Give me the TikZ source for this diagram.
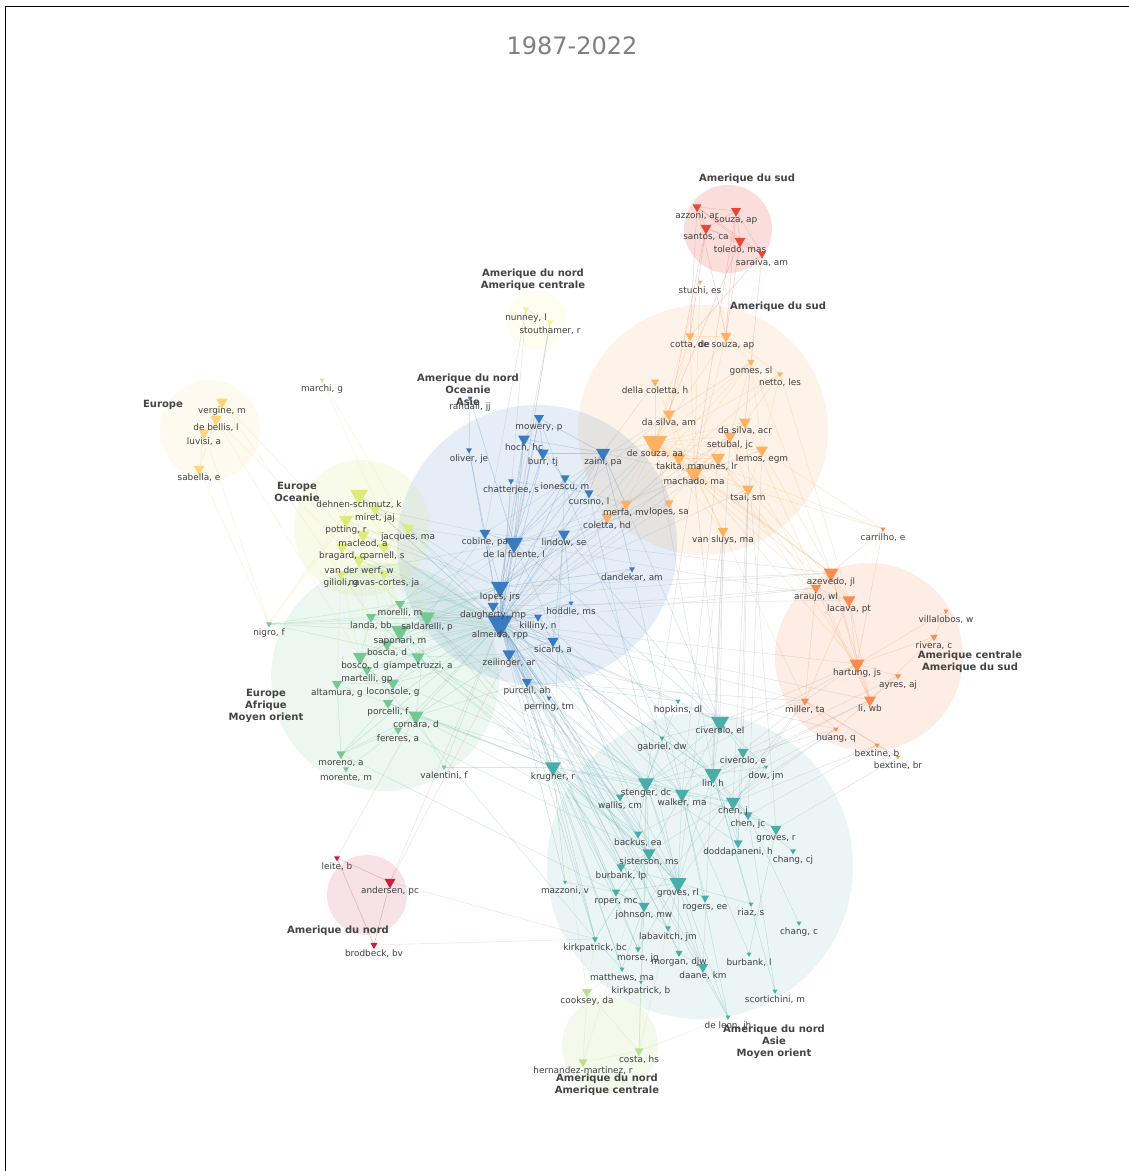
\documentclass[tikz,border=0pt]{standalone}
\usepackage{fontspec}
\setmainfont{DejaVu Sans}
\usetikzlibrary{shapes.geometric}
\definecolor{cB}{HTML}{3A7BC0}
\definecolor{cO}{HTML}{FDB163}
\definecolor{cR}{HTML}{E5493A}
\definecolor{cOR}{HTML}{F98C4E}
\definecolor{cT}{HTML}{4AADA7}
\definecolor{cG}{HTML}{77C795}
\definecolor{cYG}{HTML}{DDEB7D}
\definecolor{cY}{HTML}{FDD67C}
\definecolor{cPY}{HTML}{F4F28A}
\definecolor{cC}{HTML}{C8203D}
\definecolor{cLG}{HTML}{B7E08F}
\definecolor{cX}{HTML}{9AA3AA}
\definecolor{cGB}{HTML}{6FB7A8}
\definecolor{cBT}{HTML}{5A9CB4}
\definecolor{labc}{HTML}{404040}
\definecolor{grpc}{HTML}{444444}
\definecolor{titlec}{HTML}{808080}
\pgfdeclarelayer{bg}
\pgfdeclarelayer{edges}
\pgfdeclarelayer{top}
\pgfsetlayers{bg,edges,main,top}
\tikzset{
  tri/.style={regular polygon, regular polygon sides=3, shape border rotate=180, inner sep=0pt, draw=none},
  lab/.style={font=\fontsize{8.9}{10}\selectfont, text=labc, inner sep=0pt, text height=6.5pt, text depth=2pt},
  grp/.style={font=\bfseries\fontsize{10}{12}\selectfont, text=grpc, align=center, inner sep=0pt},
  hull/.style={draw=none, fill opacity=0.14},
  edge/.style={line width=0.5pt, draw opacity=0.3},
}
\newcommand\tn[7][9.5]{%
  \node[tri,fill=#6,minimum size=#5*1.155pt] (#2) at (#3,#4) {};%
  \begin{pgfonlayer}{top}\node[lab] (#2-l) at (#3,#4+#1) {#7};\end{pgfonlayer}}
\newcommand\edgeset[2]{\begin{pgfonlayer}{edges}\foreach \a/\b in {#2} \draw[edge,#1] (\a.center) -- (\b.center);\end{pgfonlayer}}
\begin{document}
\begin{tikzpicture}[x=1pt,y=-1pt]
\useasboundingbox (0,0) rectangle (1129,1171);

% ---------- cluster hulls ----------
\begin{pgfonlayer}{bg}
\fill[white] (0,0) rectangle (1129,1171);
\fill[hull,cR,fill opacity=0.18] (728,229) circle[radius=44];
\fill[hull,cO] (703,430) circle[radius=125];
\fill[hull,cPY,fill opacity=0.12] (537,320) circle[radius=30];
\fill[hull,cY,fill opacity=0.12] (210,430) circle[radius=50];
\fill[hull,cB,fill opacity=0.13] (537,545) circle[radius=140];
\fill[hull,cYG,fill opacity=0.16] (362,528) circle[radius=68];
\fill[hull,cG,fill opacity=0.14] (385,677) circle[radius=114];
\fill[hull,cOR,fill opacity=0.15] (869,657) circle[radius=94];
\fill[hull,cT,fill opacity=0.11] (700,866) circle[radius=153];
\fill[hull,cC,fill opacity=0.13] (367,895) circle[radius=40];
\fill[hull,cLG,fill opacity=0.16] (610,1045) circle[radius=48];
\draw[black, line width=0.8pt] (5.5,1171) -- (5.5,6.5) -- (1129,6.5);
\end{pgfonlayer}
\node[font=\fontsize{24}{28}\selectfont, text=titlec, inner sep=0pt] (title) at (572,46) {1987-2022};

% ---------- group labels ----------
\node[grp] (g1) at (747,179) {Amerique du sud};
\node[grp] (g2) at (533,280) {Amerique du nord\\Amerique centrale};
\node[grp] (g3) at (778,307) {Amerique du sud};
\node[grp] (g4) at (163,405) {Europe};
\node[grp] (g5) at (468,389.5) {Amerique du nord\\Oceanie\\Asie};
\node[grp] (g6) at (297,491.5) {Europe\\Oceanie};
\node[grp] (g7) at (266,705.5) {Europe\\Afrique\\Moyen orient};
\node[grp] (g8) at (970,662) {Amerique centrale\\Amerique du sud};
\node[grp] (g9) at (338,931) {Amerique du nord};
\node[grp] (g10) at (774,1041.5) {Amerique du nord\\Asie\\Moyen orient};
\node[grp] (g11) at (607,1085) {Amerique du nord\\Amerique centrale};

% ---------- nodes ----------
% Europe
\tn{vergine}{222}{402}{12}{cY}{vergine, m}
\tn{debellis}{216}{419}{12}{cY}{de bellis, l}
\tn{luvisi}{204}{433}{11}{cY}{luvisi, a}
\tn{sabella}{199}{469}{11}{cY}{sabella, e}
\tn{marchi}{322}{380}{5}{cYG}{marchi, g}
% top pale
\tn{nunney}{526}{309}{6}{cPY}{nunney, l}
\tn{stouthamer}{550}{322}{6}{cPY}{stouthamer, r}
% red top
\tn{azzoni}{697}{207}{9}{cR}{azzoni, ar}
\tn{souza}{736}{211}{10}{cR}{souza, ap}
\tn{santos}{706}{228}{11}{cR}{santos, ca}
\tn{toledo}{740}{241}{11}{cR}{toledo, mas}
\tn{saraiva}{762}{254}{8}{cR}{saraiva, am}
% orange
\tn{stuchi}{700}{282}{5}{cO}{stuchi, es}
\tn{cotta}{690}{336}{9}{cO}{cotta, de}
\tn{desouzaap}{726}{336}{11}{cO}{de souza, ap}
\tn{gomes}{751}{362}{7}{cO}{gomes, sl}
\tn{netto}{780}{374}{6}{cO}{netto, les}
\tn{dellacoletta}{655}{382}{8}{cO}{della coletta, h}
\tn{dasilvaam}{669}{414}{12}{cO}{da silva, am}
\tn{dasilvaacr}{745}{422}{12}{cO}{da silva, acr}
\tn{setubal}{730}{436}{12}{cO}{setubal, jc}
\tn[11]{desouzaaa}{655}{443}{24}{cO}{de souza, aa}
\tn{lemos}{762}{450}{12}{cO}{lemos, egm}
\tn{takita}{679}{458}{13}{cO}{takita, ma}
\tn{nunes}{718}{458}{14}{cO}{nunes, lr}
\tn{machado}{694}{473}{18}{cO}{machado, ma}
\tn{tsai}{748}{489}{12}{cO}{tsai, sm}
\tn{merfa}{626}{504}{11}{cO}{merfa, mv}
\tn{lopessa}{669}{503}{9}{cO}{lopes, sa}
\tn{coletta}{607}{517}{12}{cO}{coletta, hd}
\tn{vansluys}{723}{531}{11}{cO}{van sluys, ma}
% blue
\tn{randall}{470}{398}{5}{cB}{randall, jj}
\tn{mowery}{539}{418}{10}{cB}{mowery, p}
\tn{hoch}{524}{439}{12}{cB}{hoch, hc}
\tn{burr}{543}{453}{12}{cB}{burr, tj}
\tn{oliver}{469}{450}{6}{cB}{oliver, je}
\tn{zaini}{603}{453}{14}{cB}{zaini, pa}
\tn{chatterjee}{511}{481}{6}{cB}{chatterjee, s}
\tn{ionescu}{565}{478}{9}{cB}{ionescu, m}
\tn{cursino}{589}{493}{9}{cB}{cursino, l}
\tn{cobine}{485}{533}{11}{cB}{cobine, pa}
\tn[12]{delafuente}{514}{543}{18}{cB}{de la fuente, l}
\tn{lindow}{564}{534}{12}{cB}{lindow, se}
\tn{dandekar}{632}{569}{6}{cB}{dandekar, am}
\tn[10.5]{lopesjrs}{500}{587}{18}{cB}{lopes, jrs}
\tn{daugherty}{493}{606}{11}{cB}{daugherty, mp}
\tn{hoddle}{571}{603}{5}{cB}{hoddle, ms}
\tn{killiny}{538}{617}{8}{cB}{killiny, n}
\tn[12]{almeida}{500}{623}{26}{cB}{almeida, rpp}
\tn{sicard}{553}{641}{11}{cB}{sicard, a}
\tn{zeilinger}{509}{654}{13}{cB}{zeilinger, ar}
\tn{purcell}{527}{682}{10}{cB}{purcell, ah}
\tn{perring}{549}{698}{5}{cB}{perring, tm}
% Europe Oceanie
\tn[10]{dehnen}{359}{495}{18}{cYG}{dehnen-schmutz, k}
\tn{miret}{375}{509}{12}{cYG}{miret, jaj}
\tn[10.5]{potting}{346}{520}{14}{cYG}{potting, r}
\tn{jacques}{408}{528}{12}{cYG}{jacques, ma}
\tn{macleod}{363}{535}{13}{cYG}{macleod, a}
\tn{bragard}{342}{547}{12}{cYG}{bragard, c}
\tn{parnell}{384}{547}{12}{cYG}{parnell, s}
\tn[11]{vanderwerf}{359}{560}{13}{cYG}{van der werf, w}
\tn{gilioli}{341}{574}{10}{cYG}{gilioli, g}
\tn{navas}{384}{574}{10}{cYG}{navas-cortes, ja}
% green
\tn{nigro}{269}{624}{6}{cG}{nigro, f}
\tn{morelli}{400}{604}{10}{cG}{morelli, m}
\tn{landa}{371}{617}{10}{cG}{landa, bb}
\tn[10]{saldarelli}{427}{617}{16}{cG}{saldarelli, p}
\tn[10]{saponari}{400}{631}{18}{cG}{saponari, m}
\tn{boscia}{387}{644}{12}{cG}{boscia, d}
\tn{bosco}{360}{657}{14}{cG}{bosco, d}
\tn{giampetruzzi}{418}{657}{13}{cG}{giampetruzzi, a}
\tn{martelli}{367}{670}{10}{cG}{martelli, gp}
\tn{loconsole}{393}{683}{12}{cG}{loconsole, g}
\tn{altamura}{337}{684}{10}{cG}{altamura, g}
\tn{porcelli}{388}{703}{10}{cG}{porcelli, f}
\tn{cornara}{416}{716}{15}{cG}{cornara, d}
\tn{fereres}{398}{730}{8}{cG}{fereres, a}
\tn{moreno}{341}{754}{9}{cG}{moreno, a}
\tn{morente}{346}{769}{6}{cG}{morente, m}
\tn{valentini}{444}{767}{5}{cG}{valentini, f}
% orange-red
\tn{carrilho}{883}{529}{5}{cOR}{carrilho, e}
\tn{azevedo}{831}{573}{15}{cOR}{azevedo, jl}
\tn{araujo}{816}{588}{10}{cOR}{araujo, wl}
\tn{lacava}{849}{600}{13}{cOR}{lacava, pt}
\tn{villalobos}{946}{611}{5}{cOR}{villalobos, w}
\tn{rivera}{934}{637}{7}{cOR}{rivera, c}
\tn{hartung}{857}{664}{15}{cOR}{hartung, js}
\tn{ayres}{898}{676}{6}{cOR}{ayres, aj}
\tn{miller}{805}{701}{8}{cOR}{miller, ta}
\tn{liwb}{870}{700}{12}{cOR}{li, wb}
\tn{huang}{836}{729}{5}{cOR}{huang, q}
\tn{bextineb}{877}{745}{5}{cOR}{bextine, b}
\tn{bextinebr}{898}{757}{4}{cOR}{bextine, br}
% teal
\tn{hopkins}{678}{701}{5}{cT}{hopkins, dl}
\tn{civeroloel}{720}{722}{18}{cT}{civerolo, el}
\tn{gabriel}{662}{738}{5}{cT}{gabriel, dw}
\tn{civeroloe}{743}{752}{11}{cT}{civerolo, e}
\tn{dow}{766}{767}{4}{cT}{dow, jm}
\tn[10]{krugner}{553}{767}{16}{cT}{krugner, r}
\tn[10]{linh}{713}{774}{17}{cT}{lin, h}
\tn[10.5]{stenger}{646}{783}{16}{cT}{stenger, dc}
\tn{wallis}{620}{797}{8}{cT}{wallis, cm}
\tn{walker}{682}{794}{14}{cT}{walker, ma}
\tn{chenj}{733}{802}{14}{cT}{chen, j}
\tn{chenjc}{748}{815}{9}{cT}{chen, jc}
\tn{grovesr}{776}{829}{11}{cT}{groves, r}
\tn{backus}{638}{834}{8}{cT}{backus, ea}
\tn{doddapaneni}{738}{843}{9}{cT}{doddapaneni, h}
\tn{changcj}{793}{851}{6}{cT}{chang, cj}
\tn{sisterson}{649}{853}{13}{cT}{sisterson, ms}
\tn{burbanklp}{621}{867}{9}{cT}{burbank, lp}
\tn{mazzoni}{565}{882}{4}{cT}{mazzoni, v}
\tn[10]{grovesrl}{678}{883}{17}{cT}{groves, rl}
\tn{roper}{616}{892}{8}{cT}{roper, mc}
\tn{rogers}{705}{898}{8}{cT}{rogers, ee}
\tn{riaz}{751}{904}{5}{cT}{riaz, s}
\tn{johnson}{644}{906}{11}{cT}{johnson, mw}
\tn{changc}{799}{923}{5}{cT}{chang, c}
\tn{labavitch}{668}{928}{6}{cT}{labavitch, jm}
\tn{kirkpatrickbc}{595}{939}{6}{cT}{kirkpatrick, bc}
\tn{morse}{638}{949}{6}{cT}{morse, jg}
\tn{morgan}{679}{953}{7}{cT}{morgan, djw}
\tn{burbankl}{749}{954}{5}{cT}{burbank, l}
\tn{daane}{703}{967}{10}{cT}{daane, km}
\tn{matthews}{622}{969}{5}{cT}{matthews, ma}
\tn{kirkpatrickb}{641}{982}{4}{cT}{kirkpatrick, b}
\tn{scortichini}{775}{991}{5}{cT}{scortichini, m}
\tn{deleon}{728}{1017}{5}{cT}{de leon, jh}
% light green
\tn{cooksey}{587}{992}{10}{cLG}{cooksey, da}
\tn{costa}{639}{1051}{9}{cLG}{costa, hs}
\tn{hernandez}{583}{1062}{9}{cLG}{hernandez-martinez, r}
% crimson
\tn{leite}{337}{858}{6}{cC}{leite, b}
\tn{andersen}{390}{882}{11}{cC}{andersen, pc}
\tn{brodbeck}{374}{945}{7}{cC}{brodbeck, bv}

% ---------- edges ----------
\edgeset{cR,draw opacity=0.25}{azzoni/souza, azzoni/santos, azzoni/toledo, azzoni/saraiva, souza/santos, souza/toledo, souza/saraiva, santos/toledo, santos/saraiva, toledo/saraiva, santos/cotta, azzoni/cotta, souza/desouzaap, toledo/desouzaap, santos/dasilvaam, saraiva/dasilvaacr, toledo/desouzaaa, saraiva/cotta, azzoni/desouzaap, souza/machado}
\edgeset{cO}{stuchi/desouzaaa, stuchi/machado,
 desouzaaa/dasilvaam, desouzaaa/setubal, desouzaaa/takita, desouzaaa/nunes, desouzaaa/machado, desouzaaa/lemos, desouzaaa/dasilvaacr, desouzaaa/cotta, desouzaaa/desouzaap, desouzaaa/dellacoletta, desouzaaa/merfa, desouzaaa/lopessa, desouzaaa/coletta, desouzaaa/vansluys, desouzaaa/tsai, desouzaaa/gomes, desouzaaa/netto,
 machado/takita, machado/nunes, machado/tsai, machado/setubal, machado/lemos, machado/dasilvaacr, machado/vansluys, machado/merfa, machado/lopessa, machado/dasilvaam, machado/cotta, machado/desouzaap,
 cotta/desouzaap, cotta/dasilvaam, desouzaap/gomes, desouzaap/netto, gomes/lemos, netto/lemos, gomes/setubal, dellacoletta/dasilvaam, dasilvaacr/setubal, tsai/lemos, nunes/setubal, nunes/tsai, takita/nunes, dasilvaam/takita, setubal/tsai, dasilvaacr/lemos, netto/dasilvaacr, gomes/takita, netto/merfa, gomes/coletta,
 azevedo/desouzaaa, azevedo/machado, araujo/nunes, lacava/tsai, azevedo/lemos, hartung/machado, carrilho/tsai, carrilho/desouzaaa, liwb/dasilvaacr, araujo/desouzaaa, lacava/desouzaaa, azevedo/takita, araujo/setubal, hartung/nunes, miller/machado, azevedo/gomes, lacava/netto, carrilho/lemos}
\edgeset{cX}{zaini/desouzaaa, zaini/machado, zaini/merfa, cursino/merfa, cursino/coletta, coletta/delafuente, desouzaaa/almeida, machado/lopesjrs, desouzaaa/lopesjrs, takita/almeida, lopessa/almeida, nunes/almeida, setubal/lopesjrs, dasilvaam/delafuente, dellacoletta/zaini, lemos/delafuente, gomes/cobine, merfa/almeida, coletta/lopesjrs, dasilvaacr/almeida, tsai/daugherty, lopessa/lindow,
 vansluys/civeroloel, vansluys/linh, desouzaaa/linh, machado/stenger, vansluys/grovesrl, tsai/chenj, tsai/civeroloe, setubal/linh, machado/civeroloel, nunes/walker, lemos/chenjc, tsai/doddapaneni, vansluys/daane, dasilvaacr/grovesr,
 miller/civeroloel, miller/linh, huang/chenj, liwb/walker, hartung/stenger, huang/stenger, bextineb/chenj, liwb/linh, miller/grovesrl, huang/sisterson, bextineb/chenjc, ayres/civeroloe, huang/backus, hartung/civeroloel, miller/johnson, bextinebr/grovesr,
 araujo/almeida, azevedo/lopesjrs, lacava/delafuente, hartung/almeida, miller/almeida, azevedo/cobine, araujo/saldarelli, lacava/daugherty, huang/zeilinger, liwb/almeida, miller/purcell, azevedo/morelli,
 nunney/stouthamer, nunney/cobine, stouthamer/lopesjrs, stouthamer/almeida, nunney/almeida, stouthamer/delafuente}
\edgeset{cOR}{azevedo/araujo, azevedo/lacava, araujo/lacava, azevedo/hartung, lacava/hartung, hartung/liwb, hartung/ayres, hartung/rivera, rivera/villalobos, ayres/liwb, araujo/miller, lacava/liwb, miller/bextineb, bextineb/bextinebr, liwb/huang, huang/miller, azevedo/liwb, hartung/miller, carrilho/azevedo, carrilho/hartung, villalobos/hartung, rivera/liwb, miller/bextinebr, araujo/liwb, lacava/miller}
\edgeset{cB}{almeida/lopesjrs, almeida/daugherty, almeida/killiny, almeida/sicard, almeida/zeilinger, almeida/purcell, almeida/delafuente, almeida/cobine, almeida/lindow, almeida/hoch, almeida/burr, almeida/mowery, almeida/zaini, almeida/ionescu, almeida/cursino, almeida/chatterjee, almeida/oliver, almeida/hoddle, almeida/dandekar, almeida/perring,
 delafuente/cobine, delafuente/lindow, delafuente/hoch, delafuente/burr, delafuente/mowery, delafuente/lopesjrs, delafuente/zaini, delafuente/ionescu,
 lopesjrs/daugherty, lopesjrs/zeilinger, zeilinger/purcell, purcell/perring, mowery/hoch, mowery/burr, hoch/burr, hoch/zaini, burr/zaini, mowery/zaini, burr/ionescu, ionescu/cursino, cursino/zaini, chatterjee/cursino, oliver/randall, oliver/cobine, randall/delafuente, lindow/sicard, killiny/sicard, hoddle/killiny, dandekar/lopesjrs, lopesjrs/lindow, cobine/lopesjrs, hoch/lopesjrs, zaini/lopesjrs, daugherty/killiny, daugherty/sicard, zeilinger/sicard, dandekar/zaini, hoddle/lindow}
\edgeset{cGB}{almeida/saldarelli, almeida/saponari, almeida/morelli, almeida/landa, almeida/boscia, almeida/bosco, almeida/giampetruzzi, almeida/cornara, almeida/loconsole, almeida/porcelli, almeida/martelli, almeida/altamura, almeida/fereres, almeida/moreno, almeida/nigro, almeida/valentini,
 lopesjrs/saldarelli, lopesjrs/morelli, lopesjrs/saponari, lopesjrs/landa, delafuente/saponari, daugherty/saldarelli, zeilinger/cornara, purcell/cornara, cobine/morelli, daugherty/boscia, zeilinger/giampetruzzi, sicard/saldarelli, killiny/saldarelli, lopesjrs/bosco, delafuente/landa, cobine/saldarelli, zeilinger/loconsole,
 almeida/dehnen, almeida/jacques, delafuente/jacques, lopesjrs/potting, almeida/macleod, almeida/parnell, almeida/vanderwerf, almeida/navas, delafuente/gilioli, almeida/bragard, cobine/miret, lopesjrs/dehnen, almeida/miret, daugherty/jacques, lopesjrs/macleod,
 cornara/krugner, saldarelli/krugner, saponari/krugner, giampetruzzi/krugner, cornara/stenger, porcelli/krugner, valentini/krugner, fereres/sisterson, loconsole/stenger, boscia/walker, saldarelli/grovesrl, cornara/backus, moreno/johnson, bosco/kirkpatrickbc, giampetruzzi/wallis, morelli/stenger, landa/sisterson, altamura/krugner}
\edgeset{cBT}{almeida/krugner, almeida/stenger, almeida/walker, almeida/grovesrl, almeida/sisterson, almeida/backus, almeida/johnson, almeida/wallis, almeida/linh, almeida/kirkpatrickbc, almeida/mazzoni, almeida/morse, almeida/matthews, almeida/labavitch, almeida/daane, almeida/civeroloel, almeida/burbanklp, almeida/roper, almeida/gabriel, almeida/hopkins, almeida/chenj, almeida/deleon,
 zeilinger/krugner, purcell/krugner, lopesjrs/stenger, purcell/stenger, delafuente/civeroloel, purcell/grovesrl, zeilinger/sisterson, lopesjrs/kirkpatrickbc, sicard/walker, killiny/linh, delafuente/daane, daugherty/johnson, lopesjrs/morgan, sicard/grovesrl, purcell/hopkins, perring/stenger, lindow/civeroloel, dandekar/walker, hoddle/linh, zaini/civeroloel, cursino/grovesrl, ionescu/krugner, mowery/walker}
\edgeset{cYG}{dehnen/miret, dehnen/potting, dehnen/macleod, miret/potting, potting/macleod, macleod/bragard, macleod/parnell, bragard/vanderwerf, parnell/vanderwerf, vanderwerf/gilioli, vanderwerf/navas, gilioli/navas, jacques/parnell, jacques/macleod, miret/jacques, dehnen/jacques, potting/bragard, miret/parnell,
 vanderwerf/morelli, navas/morelli, gilioli/landa, dehnen/saldarelli, potting/saponari, macleod/boscia, parnell/saldarelli, navas/saponari, gilioli/bosco, jacques/saldarelli, bragard/altamura, vanderwerf/martelli, marchi/jacques, marchi/saldarelli, nigro/dehnen, nigro/potting}
\edgeset{cG}{morelli/landa, morelli/saldarelli, landa/saponari, saldarelli/saponari, saponari/boscia, boscia/bosco, boscia/giampetruzzi, bosco/martelli, giampetruzzi/loconsole, martelli/loconsole, martelli/altamura, loconsole/porcelli, porcelli/cornara, cornara/fereres, fereres/moreno, moreno/morente, porcelli/moreno, cornara/valentini, saldarelli/giampetruzzi, bosco/saponari, altamura/loconsole, fereres/morente, nigro/saldarelli, nigro/landa, nigro/morelli, nigro/saponari, nigro/giampetruzzi, cornara/moreno, altamura/moreno, saldarelli/cornara, landa/bosco, morelli/giampetruzzi}
\edgeset{cY}{vergine/debellis, vergine/luvisi, debellis/luvisi, debellis/sabella, luvisi/sabella, vergine/sabella, sabella/nigro, luvisi/nigro, vergine/landa, debellis/bosco, debellis/morelli, vergine/saldarelli}
\edgeset{cT}{krugner/stenger, krugner/wallis, krugner/backus, krugner/sisterson, krugner/johnson, krugner/roper, krugner/grovesrl, krugner/burbanklp, krugner/mazzoni, krugner/kirkpatrickbc, krugner/matthews, krugner/walker, krugner/morse,
 stenger/walker, stenger/linh, stenger/wallis, stenger/sisterson, stenger/backus, stenger/grovesrl, stenger/chenj, stenger/civeroloel, stenger/johnson, stenger/doddapaneni,
 walker/linh, walker/civeroloel, walker/chenj, walker/grovesrl, walker/chenjc, walker/sisterson, walker/deleon, walker/burbankl,
 linh/civeroloel, linh/civeroloe, linh/chenj, linh/chenjc, linh/dow, linh/doddapaneni, linh/riaz, linh/grovesrl, linh/gabriel,
 civeroloel/gabriel, civeroloel/hopkins, civeroloel/civeroloe, civeroloel/dow, chenj/chenjc, chenj/grovesr, chenj/doddapaneni, chenjc/grovesr, chenjc/changcj, chenjc/changc, chenjc/scortichini, grovesr/burbankl,
 sisterson/grovesrl, sisterson/johnson, sisterson/burbanklp, sisterson/kirkpatrickbc, sisterson/roper,
 grovesrl/rogers, grovesrl/johnson, grovesrl/roper, grovesrl/labavitch, grovesrl/morgan, grovesrl/daane, grovesrl/riaz, grovesrl/burbanklp, grovesrl/morse,
 johnson/roper, johnson/labavitch, johnson/morse, johnson/kirkpatrickb, johnson/matthews, labavitch/morgan, morgan/daane, daane/deleon, kirkpatrickbc/matthews, mazzoni/roper, deleon/stenger, civeroloe/doddapaneni, dow/chenj, hopkins/stenger, gabriel/stenger, rogers/walker, scortichini/linh}
\edgeset{cLG}{cooksey/kirkpatrickbc, cooksey/krugner, cooksey/costa, cooksey/hernandez, hernandez/costa, costa/johnson, costa/labavitch, costa/deleon, costa/stenger, hernandez/sisterson, cooksey/matthews, costa/kirkpatrickb}
\edgeset{cC}{leite/andersen, leite/brodbeck, andersen/brodbeck}
\edgeset{cC,draw opacity=0.15}{leite/cornara, andersen/almeida, andersen/zeilinger, brodbeck/kirkpatrickbc, andersen/kirkpatrickbc}
\end{tikzpicture}
\end{document}
